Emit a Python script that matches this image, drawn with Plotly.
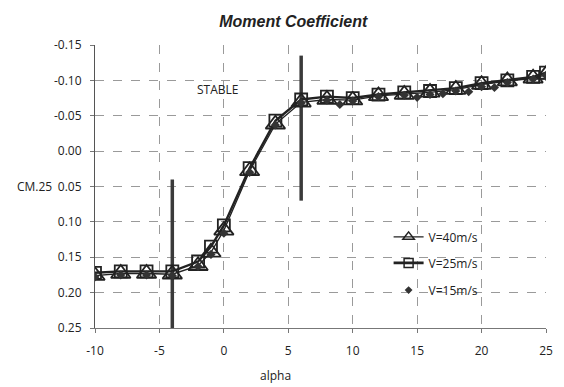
import plotly.graph_objects as go

alpha = [-10, -8, -6, -4, -2, -1, 0, 2, 4, 6, 8, 10, 12, 14, 16, 18, 20, 22, 24, 25]
cm_v40 = [0.176, 0.173, 0.173, 0.174, 0.162, 0.143, 0.112, 0.028, -0.038, -0.069, -0.073, -0.072, -0.078, -0.080, -0.083, -0.087, -0.094, -0.099, -0.103, -0.108]
cm_v25 = [0.172, 0.170, 0.170, 0.170, 0.156, 0.135, 0.105, 0.024, -0.043, -0.073, -0.077, -0.075, -0.080, -0.083, -0.085, -0.089, -0.096, -0.100, -0.105, -0.111]
alpha15 = [-10, -8, -6, -4, -2, -1, 0, 2, 4, 6, 8, 9, 10, 12, 14, 15, 16, 17, 18, 19, 20, 21, 22, 24, 25]
cm_v15 = [0.178, 0.175, 0.175, 0.176, 0.163, 0.146, 0.116, 0.030, -0.037, -0.068, -0.072, -0.066, -0.071, -0.077, -0.079, -0.076, -0.080, -0.081, -0.085, -0.084, -0.091, -0.090, -0.097, -0.102, -0.107]

stab_alpha = [-4, 6]
stab_lo = [0.25, 0.07]
stab_hi = [0.04, -0.135]

x_ticks = [-10, -5, 0, 5, 10, 15, 20, 25]
y_ticks = [-0.15, -0.10, -0.05, 0.00, 0.05, 0.10, 0.15, 0.20, 0.25]

ink = "#222222"
font = "Open Sans"

fig = go.Figure()

for a, lo, hi in zip(stab_alpha, stab_lo, stab_hi):
    fig.add_trace(go.Scatter(x=[a, a], y=[lo, hi], mode="lines",
                             line=dict(color="#3a3a3a", width=3.5),
                             showlegend=False, hoverinfo="skip"))

fig.add_trace(go.Scatter(x=alpha, y=cm_v40, mode="lines+markers", name="V=40m/s",
                         showlegend=False,
                         line=dict(color=ink, width=1.3),
                         marker=dict(symbol="triangle-up-open", size=17, color=ink,
                                     line=dict(width=1.8, color=ink))))
fig.add_trace(go.Scatter(x=alpha, y=cm_v25, mode="lines+markers", name="V=25m/s",
                         showlegend=False,
                         line=dict(color=ink, width=2.4),
                         marker=dict(symbol="square-open", size=12, color=ink,
                                     line=dict(width=1.8, color=ink))))
fig.add_trace(go.Scatter(x=alpha15, y=cm_v15, mode="markers", name="V=15m/s",
                         showlegend=False,
                         marker=dict(symbol="diamond", size=7, color="#333333")))

# legend entries (smaller symbols, as in the reference legend)
fig.add_trace(go.Scatter(x=[None], y=[None], mode="lines+markers", name="V=40m/s",
                         legend="legend",
                         line=dict(color=ink, width=1.3),
                         marker=dict(symbol="triangle-up-open", size=10, color=ink,
                                     line=dict(width=1.5, color=ink))))
fig.add_trace(go.Scatter(x=[None], y=[None], mode="lines+markers", name="V=25m/s",
                         legend="legend2",
                         line=dict(color=ink, width=2.6),
                         marker=dict(symbol="square-open", size=9, color=ink,
                                     line=dict(width=1.5, color=ink))))
fig.add_trace(go.Scatter(x=[None], y=[None], mode="markers", name="V=15m/s",
                         legend="legend3",
                         marker=dict(symbol="diamond", size=6, color="#333333")))

leg_common = dict(xanchor="left", yanchor="middle", bgcolor="rgba(255,255,255,0)",
                  font=dict(size=12, family=font, color="#222"))

fig.update_layout(
    width=564, height=387,
    margin=dict(l=95, r=11, t=45, b=59),
    paper_bgcolor="white", plot_bgcolor="white",
    font=dict(family=font, size=11, color="#222"),
    title=dict(text="<b><i>Moment Coefficient</i></b>", x=0.52, xanchor="center",
               y=0.945, yanchor="middle",
               font=dict(family="Liberation Sans", size=16, color="#222")),
    showlegend=True,
    legend=dict(x=0.651, y=0.322, **leg_common),
    legend2=dict(x=0.651, y=0.230, **leg_common),
    legend3=dict(x=0.651, y=0.134, **leg_common),
)

fig.update_xaxes(range=[-10, 25], tickvals=x_ticks,
                 ticktext=[str(v) for v in x_ticks],
                 showgrid=True, gridcolor="#9a9a9a", griddash="dash", gridwidth=1,
                 showline=True, linecolor="#777", linewidth=1,
                 ticks="outside", ticklen=4, tickcolor="#777",
                 ticklabelstandoff=8,
                 zeroline=False, tickfont=dict(size=12))
fig.update_yaxes(range=[0.25, -0.15], tickvals=y_ticks,
                 ticktext=[f"{v:.2f}".replace("\u2212", "-") for v in y_ticks],
                 showgrid=True, gridcolor="#9a9a9a", griddash="dash", gridwidth=1,
                 showline=True, linecolor="#555", linewidth=1,
                 ticks="outside", ticklen=4, tickcolor="#777",
                 ticklabelstandoff=6,
                 zeroline=False, tickfont=dict(size=12))

fig.add_annotation(x=-0.5, y=-0.087, text="STABLE", showarrow=False,
                   font=dict(size=12, family=font, color="#222"))
fig.add_annotation(xref="paper", yref="y", x=-0.090, y=0.05, text="CM.25",
                   showarrow=False, xanchor="right", font=dict(size=12, family=font))
fig.add_annotation(xref="paper", yref="paper", x=0.40, y=-0.13, text="alpha",
                   showarrow=False, yanchor="top", font=dict(size=12, family=font))

fig.write_html("out.html")
